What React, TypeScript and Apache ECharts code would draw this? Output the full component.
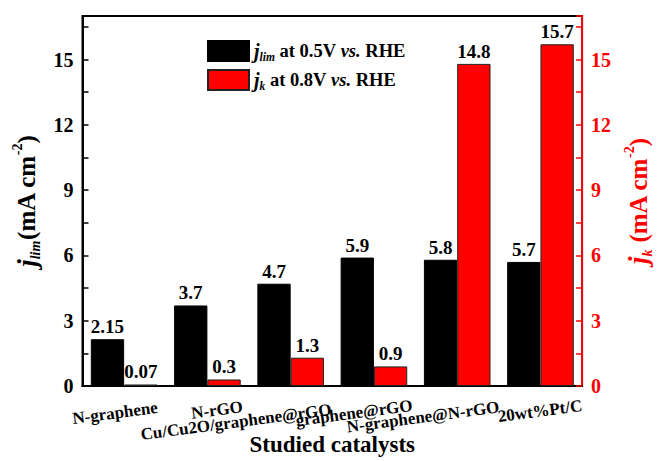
import React, { useEffect, useRef } from "react";
import * as echarts from "echarts";

const categories = [
  "N-graphene",
  "N-rGO",
  "Cu/Cu2O/graphene@rGO",
  "graphene@rGO",
  "N-graphene@N-rGO",
  "20wt%Pt/C",
];
const jLim = [2.15, 3.7, 4.7, 5.9, 5.8, 5.7];
const jK = [0.07, 0.3, 1.3, 0.9, 14.8, 15.7];
const tickLabels = [0, 3, 6, 9, 12, 15];

// layout of the staggered category labels (center x, center y)
const labelPos: [number, number][] = [
  [115, 413],
  [217, 410],
  [236, 422],
  [354, 413],
  [423, 417],
  [540, 411],
];

const FONT = "'Liberation Serif', 'Times New Roman', serif";
const RED = "#ff0000";

export default function App() {
  const ref = useRef<HTMLDivElement>(null);
  useEffect(() => {
    document.body.style.margin = "0";
    if (!ref.current) return;
    const chart = echarts.init(ref.current, undefined, { renderer: "svg" });

    const axisLabelFmt = (v: number) =>
      tickLabels.some((t) => Math.abs(t - v) < 1e-6) ? String(v) : "";

    const titleRich = (color: string) => ({
      j: { fontFamily: FONT, fontStyle: "italic", fontWeight: "bold", fontSize: 27, lineHeight: 32, color },
      sub: { fontFamily: FONT, fontStyle: "italic", fontWeight: "bold", fontSize: 14, lineHeight: 14, verticalAlign: "bottom", color },
      t: { fontFamily: FONT, fontWeight: "bold", fontSize: 25, lineHeight: 32, color },
      sup: { fontFamily: FONT, fontWeight: "bold", fontSize: 14, lineHeight: 14, verticalAlign: "top", color },
    });

    const legendRich = {
      j: { fontFamily: FONT, fontStyle: "italic", fontWeight: "bold", fontSize: 20, lineHeight: 24, color: "#000" },
      sub: { fontFamily: FONT, fontStyle: "italic", fontWeight: "bold", fontSize: 11.5, lineHeight: 11, verticalAlign: "bottom", color: "#000" },
      t: { fontFamily: FONT, fontWeight: "bold", fontSize: 18.5, lineHeight: 24, color: "#000" },
      i: { fontFamily: FONT, fontStyle: "italic", fontWeight: "bold", fontSize: 18.5, lineHeight: 24, color: "#000" },
    };

    const names = ["jlim at 0.5V vs. RHE", "jk at 0.8V vs. RHE"];

    const yAxisBase = (color: string, position: "left" | "right") => ({
      type: "value",
      position,
      min: 0,
      max: 17,
      interval: 1.5,
      splitLine: { show: false },
      axisLine: { show: true, lineStyle: { color, width: 2 } },
      axisTick: { show: true, inside: true, length: 6, lineStyle: { color, width: 1.5 } },
      axisLabel: {
        formatter: axisLabelFmt,
        color,
        fontFamily: FONT,
        fontWeight: "bold",
        fontSize: 20,
        margin: 9,
      },
      nameLocation: "middle",
      nameRotate: 90,
    });

    const valueLabel = {
      show: true,
      position: "top",
      distance: 3,
      color: "#000",
      fontFamily: FONT,
      fontWeight: "bold",
      fontSize: 19,
    };

    chart.setOption({
      animation: false,
      backgroundColor: "#fff",
      grid: {
        left: 82.5,
        right: 69,
        top: 16,
        bottom: 72,
        show: true,
        borderColor: "#000",
        borderWidth: 2,
      },
      legend: {
        left: 202,
        top: 35,
        orient: "vertical",
        itemWidth: 41,
        itemHeight: 20,
        itemGap: 6,
        icon: "rect",
        data: names,
        formatter: (n: string) =>
          n === names[0]
            ? "{j|j}{sub|lim}{t| at 0.5V }{i|vs.}{t| RHE}"
            : "{j|j}{sub|k}{t| at 0.8V }{i|vs.}{t| RHE}",
        textStyle: { rich: legendRich },
      },
      xAxis: {
        type: "category",
        data: categories,
        axisLine: { lineStyle: { color: "#000", width: 2 } },
        axisTick: { show: false },
        axisLabel: { show: false },
        name: "Studied catalysts",
        nameLocation: "middle",
        nameGap: 47,
        nameTextStyle: { fontFamily: FONT, fontWeight: "bold", fontSize: 23, color: "#000" },
      },
      yAxis: [
        {
          ...yAxisBase("#000", "left"),
          name: "{j|j}{sub|lim}{t|(mA cm}{sup|-2}{t|)}",
          nameGap: 38,
          nameTextStyle: { rich: titleRich("#000") },
        },
        {
          ...yAxisBase(RED, "right"),
          name: "{j|j}{sub|k}{t| (mA cm}{sup|-2}{t|)}",
          nameGap: 34,
          nameTextStyle: { rich: titleRich(RED) },
        },
      ],
      series: [
        {
          name: names[0],
          type: "bar",
          yAxisIndex: 0,
          data: jLim,
          barGap: "0%",
          barCategoryGap: "20%",
          itemStyle: { color: "#000", borderColor: "#000", borderWidth: 1 },
          label: valueLabel,
        },
        {
          name: names[1],
          type: "bar",
          yAxisIndex: 1,
          data: jK,
          barGap: "0%",
          barCategoryGap: "20%",
          itemStyle: { color: RED, borderColor: "#222", borderWidth: 1 },
          label: valueLabel,
        },
      ],
      graphic: categories.map((c, i) => ({
        type: "text",
        x: labelPos[i][0],
        y: labelPos[i][1],
        rotation: (7.5 * Math.PI) / 180,
        style: {
          text: c,
          fill: "#000",
          font: `bold 17px ${FONT}`,
          align: "center",
          verticalAlign: "middle",
          textAlign: "center",
          textVerticalAlign: "middle",
        },
      })),
    });

    return () => chart.dispose();
  }, []);

  return <div ref={ref} style={{ width: 662, height: 461 }} />;
}
